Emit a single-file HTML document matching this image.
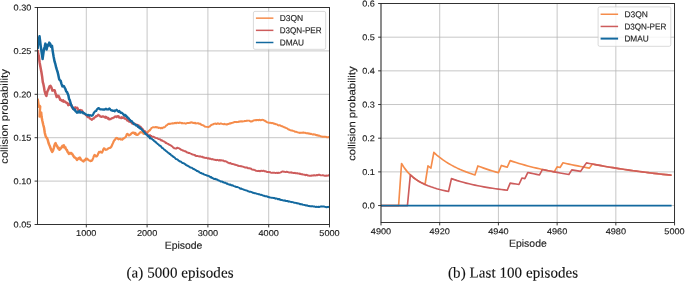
<!DOCTYPE html>
<html><head><meta charset="utf-8"><title>collision probability</title>
<style>
html,body{margin:0;padding:0;background:#ffffff;}
body{width:685px;height:282px;overflow:hidden;font-family:"Liberation Sans",sans-serif;}
svg{display:block;will-change:transform;opacity:0.999;}
</style></head><body>
<svg width="685" height="282" viewBox="0 0 685 282" font-family="'Liberation Sans', sans-serif" fill="#1c1c1c">
<rect x="0" y="0" width="685" height="282" fill="#ffffff"/>
<defs><clipPath id="cl"><rect x="37.50" y="7.50" width="292.00" height="217.00"/></clipPath>
<clipPath id="cr"><rect x="381.00" y="3.50" width="293.55" height="219.00"/></clipPath></defs>
<g stroke="#b4b4b4" stroke-width="0.75">
<line x1="86.30" y1="7.5" x2="86.30" y2="224.5"/>
<line x1="147.10" y1="7.5" x2="147.10" y2="224.5"/>
<line x1="207.90" y1="7.5" x2="207.90" y2="224.5"/>
<line x1="268.70" y1="7.5" x2="268.70" y2="224.5"/>
<line x1="329.50" y1="7.5" x2="329.50" y2="224.5"/>
<line x1="37.5" y1="224.50" x2="329.5" y2="224.50"/>
<line x1="37.5" y1="181.10" x2="329.5" y2="181.10"/>
<line x1="37.5" y1="137.70" x2="329.5" y2="137.70"/>
<line x1="37.5" y1="94.30" x2="329.5" y2="94.30"/>
<line x1="37.5" y1="50.90" x2="329.5" y2="50.90"/>
<line x1="37.5" y1="7.50" x2="329.5" y2="7.50"/>
</g>
<g clip-path="url(#cl)" fill="none" stroke-width="1.95" stroke-linejoin="round" stroke-linecap="butt">
<path d="M37.60,98.70 L38.20,102.50 L38.80,106.80 L39.60,105.80 L40.20,106.50 L39.80,111.50 L39.60,116.50 L40.40,113.50 L41.20,112.70 L41.60,117.00 L42.40,121.00 L43.30,125.00 L44.07,127.94 L44.83,133.03 L45.60,136.00 L46.30,137.53 L47.00,138.00 L47.80,140.11 L48.60,143.20 L49.23,144.79 L49.87,146.30 L50.50,148.00 L51.35,150.30 L52.20,152.00 L53.00,150.58 L53.80,148.00 L54.40,145.59 L55.00,143.86 L55.60,143.20 L56.23,145.14 L56.87,145.60 L57.50,147.00 L58.17,148.46 L58.83,147.87 L59.50,149.80 L60.23,148.76 L60.97,148.38 L61.70,147.00 L62.43,145.92 L63.17,146.82 L63.90,145.40 L64.60,147.57 L65.30,147.19 L66.00,149.50 L66.77,149.62 L67.53,151.72 L68.30,152.70 L68.92,153.83 L69.53,152.96 L70.15,152.88 L70.77,153.54 L71.38,153.01 L72.00,154.20 L72.62,154.47 L73.25,155.73 L73.88,156.67 L74.50,157.50 L75.12,157.59 L75.75,158.21 L76.38,158.81 L77.00,160.00 L77.77,159.19 L78.53,158.11 L79.30,157.80 L80.03,157.82 L80.77,159.77" stroke="#f58c4b" stroke-width="2.5"/>
<path d="M79.30,157.80 L80.03,157.82 L80.77,159.77 L81.50,160.00 L82.20,160.58 L82.90,161.21 L83.60,161.50 L84.33,160.06 L85.07,160.31 L85.80,158.60 L86.47,159.49 L87.15,158.73 L87.83,159.40 L88.50,160.00 L89.14,160.49 L89.78,160.64 L90.42,161.13 L91.06,160.52 L91.70,160.80 L92.42,159.82 L93.15,158.11 L93.88,156.08 L94.60,154.90 L95.33,155.53 L96.07,156.47 L96.80,156.40 L97.53,155.45 L98.27,153.47 L99.00,152.00 L99.72,152.31 L100.45,151.65 L101.18,152.14 L101.90,152.70 L102.53,151.71 L103.17,149.70 L103.80,148.40 L104.65,148.61 L105.50,149.80 L106.12,149.60 L106.75,149.55 L107.38,149.24 L108.00,148.70 L108.65,148.24 L109.30,148.06 L109.95,147.89 L110.60,147.60 L111.45,146.47 L112.30,144.50 L112.97,143.13 L113.63,141.54 L114.30,140.30 L115.03,139.73 L115.75,138.49 L116.47,137.97 L117.20,138.10 L117.82,138.66 L118.43,139.32 L119.05,138.99 L119.67,138.94 L120.28,138.86 L120.90,139.60 L121.60,139.24 L122.30,139.59 L123.00,138.50 L123.73,138.54 L124.47,137.83 L125.20,137.40 L125.93,136.74 L126.67,134.60 L127.40,133.80 L128.13,134.29 L128.87,135.41 L129.60,135.20 L130.33,134.65 L131.07,133.81 L131.80,133.20 L132.53,132.65 L133.27,132.87 L134.00,132.60 L134.72,133.86 L135.45,133.01 L136.18,134.75 L136.90,134.90 L137.52,134.90 L138.13,134.51 L138.75,133.81 L139.37,133.43 L139.98,132.51 L140.60,132.00 L141.32,132.39 L142.04,132.49 L142.76,132.23 L143.48,133.76 L144.20,133.50 L144.82,133.35 L145.43,132.55 L146.05,132.76 L146.67,132.48 L147.28,132.04 L147.90,132.00 L148.51,131.14 L149.13,130.80 L149.74,130.30 L150.36,129.57" stroke="#f58c4b" stroke-width="2.2"/>
<path d="M149.74,130.30 L150.36,129.57 L150.97,128.83 L151.59,127.87 L152.20,127.60 L152.82,127.28 L153.43,127.12 L154.05,127.31 L154.67,127.41 L155.28,127.24 L155.90,126.90 L156.54,127.31 L157.18,127.52 L157.81,127.28 L158.45,127.91 L159.09,127.97 L159.72,127.71 L160.36,127.85 L161.00,128.40 L161.62,127.83 L162.23,128.19 L162.85,127.61 L163.47,127.30 L164.08,127.49 L164.70,127.20 L165.30,126.55 L165.90,125.81 L166.50,125.34 L167.10,125.09 L167.70,124.28 L168.30,124.00 L168.97,123.76 L169.64,124.02 L170.31,123.75 L170.99,123.58 L171.66,123.62 L172.33,123.21 L173.00,123.50 L173.60,123.33 L174.20,123.26 L174.80,123.00 L175.40,122.85 L176.00,123.37 L176.60,122.98 L177.20,122.67 L177.80,122.80 L178.41,122.93 L179.02,123.14 L179.62,122.59 L180.23,122.63 L180.84,122.78 L181.45,123.27 L182.06,122.89 L182.67,123.36 L183.28,123.39 L183.88,123.33 L184.49,123.14 L185.10,123.40 L185.71,123.69 L186.32,123.48 L186.93,123.19 L187.53,122.89 L188.14,123.14 L188.75,122.87 L189.36,122.93 L189.97,122.66 L190.57,122.82 L191.18,122.31 L191.79,122.42 L192.40,122.50 L193.01,122.96 L193.62,122.99 L194.22,122.65 L194.83,123.17 L195.44,122.86 L196.05,123.43 L196.66,123.39 L197.27,123.24 L197.88,123.21 L198.48,123.13 L199.09,123.89 L199.70,123.70 L200.36,123.67 L201.02,124.58 L201.68,125.01 L202.34,125.03 L203.00,125.30 L203.62,125.38 L204.25,126.23 L204.88,126.64 L205.50,126.60 L206.10,126.88 L206.70,126.85 L207.30,126.87 L207.90,126.96 L208.50,127.20 L209.10,126.54 L209.70,126.45 L210.30,125.83 L210.90,125.21 L211.50,125.00 L212.20,124.37 L212.90,124.48 L213.60,123.87 L214.30,123.70 L214.91,123.70 L215.52,123.57 L216.12,123.98 L216.73,124.00 L217.34,123.33 L217.95,123.47 L218.56,123.57 L219.17,124.07 L219.78,123.91 L220.38,123.58 L220.99,123.48 L221.60,123.70 L222.24,123.90 L222.89,124.09 L223.53,124.23 L224.18,123.85 L224.82,124.32 L225.47,124.24 L226.11,124.15 L226.76,124.60 L227.40,124.30 L228.06,123.89 L228.72,124.05 L229.38,123.35 L230.04,123.28 L230.70,123.47 L231.36,122.89 L232.02,122.97 L232.68,122.67 L233.34,122.59 L234.00,122.20 L234.61,122.07 L235.22,122.00 L235.82,121.91 L236.43,122.17 L237.04,121.96 L237.65,122.10 L238.26,122.00 L238.87,121.54 L239.48,121.70 L240.08,121.40 L240.69,121.31 L241.30,121.50 L241.96,121.18 L242.62,121.52 L243.28,121.39 L243.94,121.32 L244.60,120.96 L245.26,121.02 L245.92,121.02 L246.58,120.71 L247.24,120.73 L247.90,120.60 L248.56,120.63 L249.22,120.73 L249.88,121.01 L250.54,121.53 L251.20,121.50 L251.84,121.27 L252.48,121.21 L253.12,120.70 L253.76,120.34 L254.40,120.20 L255.03,120.34 L255.66,120.35 L256.29,119.89 L256.91,120.23 L257.54,119.91 L258.17,119.91 L258.80,120.31 L259.43,119.84 L260.06,119.93 L260.69,120.32 L261.31,120.00 L261.94,119.82 L262.57,119.83 L263.20,120.00 L263.80,120.17 L264.40,120.75 L265.00,120.72 L265.60,121.47 L266.20,121.49 L266.80,122.12 L267.40,122.40 L268.00,122.38 L268.60,122.80 L269.28,122.73 L269.97,122.92 L270.65,122.78 L271.33,123.15 L272.02,122.88 L272.70,123.20 L273.33,123.14 L273.97,123.86 L274.60,123.69 L275.23,124.05 L275.87,124.17 L276.50,124.30 L277.13,124.36 L277.77,125.02 L278.40,125.25 L279.03,125.45 L279.67,125.19 L280.30,125.45 L280.93,125.86 L281.57,126.26 L282.20,126.20 L282.81,126.52 L283.42,126.90 L284.02,127.19 L284.63,127.27 L285.24,127.72 L285.85,127.90 L286.46,128.16 L287.07,128.37 L287.68,128.78 L288.28,129.46 L288.89,129.47 L289.50,129.80 L290.14,130.08 L290.77,130.28 L291.41,130.64 L292.05,130.54 L292.69,130.70 L293.32,130.91 L293.96,131.10 L294.60,131.59 L295.24,131.81 L295.88,131.69 L296.51,131.91 L297.15,132.22 L297.79,132.44 L298.43,132.65 L299.06,132.66 L299.70,133.00 L300.33,132.70 L300.96,132.78 L301.59,132.64 L302.21,132.86 L302.84,132.55 L303.47,132.51 L304.10,132.70 L304.74,132.89 L305.38,132.81 L306.01,133.20 L306.65,133.15 L307.29,133.46 L307.93,133.19 L308.56,133.49 L309.20,133.76 L309.84,133.48 L310.48,134.07 L311.11,133.76 L311.75,134.20 L312.39,134.42 L313.03,134.45 L313.66,134.29 L314.30,134.50 L314.91,134.45 L315.52,134.82 L316.12,135.20 L316.73,135.02 L317.34,135.50 L317.95,135.26 L318.56,135.83 L319.17,135.51 L319.78,135.83 L320.38,136.30 L320.99,136.41 L321.60,136.40 L322.23,136.70 L322.87,136.75 L323.50,136.78 L324.13,136.84 L324.77,136.64 L325.40,136.86 L326.03,136.80 L326.67,137.18 L327.30,137.24 L327.93,137.10 L328.57,137.08 L329.20,137.40" stroke="#f58c4b" stroke-width="1.95"/>
<path d="M37.60,50.00 L38.25,54.11 L38.90,56.40 L39.60,62.25 L40.30,66.30 L41.40,72.00 L42.10,76.40 L42.80,82.10 L43.40,84.18 L44.00,87.20 L44.60,91.00 L45.50,94.12 L46.40,95.90 L47.40,91.30 L48.13,90.11 L48.87,88.31 L49.60,86.30 L50.50,85.80 L51.40,87.40 L52.40,90.60 L53.13,90.08 L53.87,90.55 L54.60,90.20 L55.30,92.68 L56.00,94.90 L56.70,97.00 L57.60,95.77 L58.50,95.90 L59.40,97.76 L60.30,99.90 L61.00,99.76 L61.70,100.50 L62.40,101.11 L63.10,100.20 L63.83,101.67 L64.55,101.44 L65.28,101.81 L66.00,102.50 L66.77,102.94 L67.53,103.37 L68.30,105.20 L68.97,104.08 L69.65,104.78 L70.33,104.31 L71.00,104.50 L71.60,105.36 L72.20,107.48 L72.80,107.85 L73.40,108.90 L74.02,108.84 L74.64,108.01 L75.26,107.41 L75.88,107.83 L76.50,108.00 L77.20,107.85 L77.90,109.17 L78.60,110.72 L79.30,110.30 L79.97,110.70 L80.65,109.92" stroke="#cd5c5c" stroke-width="2.5"/>
<path d="M79.30,110.30 L79.97,110.70 L80.65,109.92 L81.33,111.04 L82.00,110.50 L82.62,111.65 L83.24,112.25 L83.86,113.21 L84.48,113.69 L85.10,114.00 L85.78,115.03 L86.46,114.98 L87.14,116.52 L87.82,117.09 L88.50,117.00 L89.14,117.05 L89.78,118.50 L90.42,119.00 L91.06,119.18 L91.70,119.80 L92.36,119.29 L93.02,118.67 L93.68,118.76 L94.34,117.56 L95.00,117.00 L95.64,117.04 L96.28,115.86 L96.92,116.19 L97.56,115.76 L98.20,114.70 L98.90,115.09 L99.60,115.70 L100.30,116.68 L101.00,116.50 L101.60,116.92 L102.20,116.64 L102.80,116.32 L103.40,116.56 L104.00,116.90 L104.60,117.32 L105.20,116.64 L105.80,117.87 L106.40,117.03 L107.00,117.50 L107.72,118.52 L108.45,118.01 L109.18,119.39 L109.90,119.10 L110.62,119.09 L111.34,118.47 L112.06,118.17 L112.78,118.05 L113.50,117.50 L114.12,117.42 L114.73,116.78 L115.35,116.41 L115.97,116.65 L116.58,117.07 L117.20,116.20 L117.90,116.71 L118.60,116.21 L119.30,117.66 L120.00,117.50 L120.60,117.86 L121.20,118.15 L121.80,117.10 L122.40,117.95 L123.00,117.60 L123.70,117.32 L124.40,118.59 L125.10,118.40 L125.80,118.71 L126.50,119.50 L127.15,120.48 L127.80,119.74 L128.45,120.78 L129.10,121.70 L129.75,121.20 L130.40,122.00 L131.12,121.97 L131.84,123.37 L132.56,123.08 L133.28,123.93 L134.00,124.00 L134.64,123.59 L135.29,124.37 L135.93,124.37 L136.58,125.41 L137.22,124.82 L137.87,126.42 L138.51,125.31 L139.16,126.66 L139.80,126.60 L140.43,126.53 L141.06,127.53 L141.69,129.02 L142.31,128.69 L142.94,129.38 L143.57,130.79 L144.20,130.98 L144.83,131.11 L145.46,133.19 L146.09,132.58 L146.71,133.05 L147.34,134.17 L147.97,135.22 L148.60,135.70 L149.24,136.20 L149.88,135.39 L150.51,135.99" stroke="#cd5c5c" stroke-width="2.2"/>
<path d="M149.24,136.20 L149.88,135.39 L150.51,135.99 L151.15,135.89 L151.79,136.35 L152.42,136.73 L153.06,136.84 L153.70,136.80 L154.31,137.38 L154.93,137.54 L155.54,137.89 L156.16,138.04 L156.77,138.14 L157.39,138.22 L158.00,138.70 L158.65,139.12 L159.30,139.16 L159.95,139.30 L160.60,139.86 L161.25,140.48 L161.90,140.22 L162.55,140.86 L163.20,141.10 L163.80,141.38 L164.40,141.84 L165.00,141.92 L165.60,142.90 L166.20,142.73 L166.80,143.36 L167.40,143.58 L168.00,144.00 L168.63,144.03 L169.25,144.84 L169.88,144.93 L170.51,145.26 L171.14,145.65 L171.76,146.14 L172.39,146.49 L173.02,147.30 L173.65,147.61 L174.27,148.37 L174.90,148.40 L175.62,148.58 L176.35,148.48 L177.08,147.75 L177.80,147.80 L178.50,148.12 L179.20,148.34 L179.90,148.97 L180.60,149.36 L181.30,149.86 L182.00,150.00 L182.66,150.47 L183.31,150.44 L183.97,150.88 L184.63,151.28 L185.29,151.20 L185.94,151.53 L186.60,152.20 L187.20,152.36 L187.80,152.37 L188.40,153.07 L189.00,152.94 L189.60,153.06 L190.20,153.36 L190.80,153.63 L191.40,153.85 L192.00,154.30 L192.62,154.51 L193.24,154.65 L193.86,154.73 L194.48,155.17 L195.10,155.03 L195.72,155.75 L196.34,155.98 L196.96,155.99 L197.58,155.96 L198.20,156.20 L198.83,156.34 L199.46,156.53 L200.09,156.27 L200.71,156.68 L201.34,156.90 L201.97,156.77 L202.60,156.84 L203.23,157.52 L203.86,157.32 L204.49,157.57 L205.11,158.01 L205.74,157.91 L206.37,157.80 L207.00,158.10 L207.63,158.61 L208.26,158.29 L208.89,158.16 L209.51,158.81 L210.14,158.51 L210.77,158.81 L211.40,159.36 L212.03,159.37 L212.66,159.02 L213.29,159.49 L213.91,159.60 L214.54,159.80 L215.17,159.74 L215.80,160.10 L216.45,160.20 L217.11,159.85 L217.76,160.05 L218.42,160.15 L219.07,160.61 L219.73,160.00 L220.38,160.55 L221.04,160.16 L221.69,160.48 L222.35,160.38 L223.00,160.50 L223.62,160.72 L224.25,161.19 L224.88,161.17 L225.50,161.21 L226.12,161.46 L226.75,161.68 L227.38,162.52 L228.00,162.50 L228.60,162.80 L229.20,163.23 L229.80,163.22 L230.40,163.00 L231.00,163.54 L231.60,163.79 L232.20,163.95 L232.80,164.02 L233.40,164.13 L234.00,164.40 L234.64,164.55 L235.27,164.91 L235.91,164.79 L236.55,165.11 L237.18,165.25 L237.82,165.68 L238.45,165.77 L239.09,166.02 L239.73,166.14 L240.36,166.02 L241.00,166.30 L241.63,166.31 L242.27,166.59 L242.90,166.62 L243.53,166.86 L244.17,167.15 L244.80,167.43 L245.43,167.40 L246.07,167.67 L246.70,167.43 L247.33,167.72 L247.97,168.22 L248.60,168.10 L249.23,168.12 L249.86,168.48 L250.49,168.51 L251.11,168.73 L251.74,169.38 L252.37,169.65 L253.00,169.68 L253.63,169.61 L254.26,169.92 L254.89,170.10 L255.51,170.55 L256.14,170.77 L256.77,170.85 L257.40,171.10 L258.04,171.08 L258.69,170.82 L259.33,171.02 L259.98,171.21 L260.62,171.07 L261.27,170.68 L261.91,170.88 L262.56,170.95 L263.20,170.80 L263.83,170.81 L264.46,171.30 L265.09,171.21 L265.71,171.48 L266.34,171.46 L266.97,171.92 L267.60,171.95 L268.23,171.98 L268.86,171.89 L269.49,172.20 L270.11,172.12 L270.74,172.57 L271.37,172.86 L272.00,172.80 L272.61,172.63 L273.22,172.81 L273.82,172.79 L274.43,172.75 L275.04,172.91 L275.65,173.04 L276.26,172.91 L276.87,172.79 L277.48,173.05 L278.08,172.71 L278.69,172.93 L279.30,172.80 L280.02,172.56 L280.75,172.29 L281.48,172.02 L282.20,171.50 L282.84,171.42 L283.49,171.70 L284.13,171.65 L284.78,171.86 L285.42,172.09 L286.07,171.97 L286.71,171.70 L287.36,172.01 L288.00,172.10 L288.63,172.29 L289.26,172.46 L289.89,172.42 L290.51,172.58 L291.14,172.23 L291.77,172.81 L292.40,172.77 L293.03,172.79 L293.66,173.03 L294.29,173.09 L294.91,172.75 L295.54,173.21 L296.17,173.27 L296.80,173.20 L297.42,173.17 L298.04,173.59 L298.66,173.64 L299.28,173.55 L299.90,174.01 L300.52,173.78 L301.14,174.17 L301.76,174.20 L302.38,174.24 L303.00,174.50 L303.63,174.64 L304.25,174.70 L304.88,174.67 L305.51,175.19 L306.14,174.81 L306.76,174.89 L307.39,175.26 L308.02,175.55 L308.65,175.57 L309.27,175.73 L309.90,175.70 L310.56,175.66 L311.21,175.73 L311.87,175.51 L312.52,175.44 L313.18,175.53 L313.83,175.24 L314.49,175.24 L315.14,175.57 L315.80,175.40 L316.52,175.05 L317.25,175.19 L317.98,175.03 L318.70,174.70 L319.36,174.77 L320.02,175.03 L320.68,175.22 L321.34,175.38 L322.00,175.30 L322.67,175.20 L323.33,175.32 L324.00,175.54 L324.67,175.68 L325.33,175.69 L326.00,175.90 L326.64,175.48 L327.28,175.61 L327.92,175.67 L328.56,175.19 L329.20,175.10" stroke="#cd5c5c" stroke-width="1.95"/>
<path d="M37.60,49.00 L38.20,43.00 L38.70,40.50 L39.50,36.20 L40.10,41.00 L40.80,46.80 L41.30,50.00 L42.00,55.00 L42.60,59.00 L43.20,54.50 L44.00,49.00 L44.60,47.00 L45.40,43.60 L46.00,46.50 L46.60,49.50 L47.30,46.50 L48.00,44.50 L48.60,45.50 L49.30,42.60 L50.40,44.20 L50.90,46.80 L52.00,45.80 L52.70,51.10 L53.60,56.50 L54.60,61.70 L55.40,64.18 L56.20,67.70 L56.90,69.94 L57.60,72.00 L58.40,75.39 L59.20,79.30 L59.90,80.21 L60.60,80.70 L61.50,83.80 L62.40,86.40 L63.13,85.90 L63.87,86.16 L64.60,87.50 L65.40,89.00 L66.20,91.37 L67.00,91.92 L67.80,94.10 L68.42,95.54 L69.05,99.04 L69.67,99.97 L70.30,102.00 L71.15,105.02 L72.00,106.70 L72.67,107.59 L73.33,108.84 L74.00,109.50 L74.77,109.57 L75.53,111.30 L76.30,111.80 L76.92,112.57 L77.53,111.91 L78.15,112.38 L78.77,112.28 L79.38,111.09 L80.00,112.00 L80.63,112.56" stroke="#13699f" stroke-width="2.5"/>
<path d="M79.38,111.09 L80.00,112.00 L80.63,112.56 L81.26,112.48 L81.89,112.22 L82.51,111.98 L83.14,113.41 L83.77,112.99 L84.40,113.20 L85.12,113.89 L85.84,114.49 L86.56,114.60 L87.28,115.27 L88.00,115.00 L88.72,114.94 L89.45,115.65 L90.18,115.22 L90.90,115.40 L91.63,115.82 L92.37,115.50 L93.10,114.70 L93.70,113.17 L94.30,112.30 L94.90,111.50 L95.50,111.00 L96.17,110.97 L96.85,109.45 L97.53,109.01 L98.20,108.10 L99.10,108.40 L100.00,109.30 L100.65,109.39 L101.30,109.28 L101.95,109.30 L102.60,109.60 L103.28,109.55 L103.96,109.37 L104.64,109.67 L105.32,109.15 L106.00,108.70 L106.65,109.38 L107.30,109.30 L107.95,109.54 L108.60,109.09 L109.25,108.36 L109.90,108.90 L110.52,109.79 L111.13,110.30 L111.75,110.56 L112.37,110.40 L112.98,110.97 L113.60,111.00 L114.20,110.45 L114.80,111.26 L115.40,110.76 L116.00,110.21 L116.60,109.76 L117.20,110.30 L117.90,111.26 L118.60,111.88 L119.30,110.96 L120.00,112.00 L120.60,112.85 L121.20,112.67 L121.80,112.68 L122.40,113.29 L123.00,114.00 L123.66,114.89 L124.31,115.54 L124.97,114.78 L125.62,116.13 L126.28,115.76 L126.93,117.26 L127.59,117.17 L128.24,118.48 L128.90,118.40 L129.54,119.85 L130.18,119.86 L130.81,121.32 L131.45,121.01 L132.09,121.39 L132.72,122.90 L133.36,122.77 L134.00,124.20 L134.64,124.11 L135.29,124.80 L135.93,125.47 L136.58,125.15 L137.22,125.35 L137.87,126.95 L138.51,126.49 L139.16,127.82 L139.80,127.50 L140.44,128.76 L141.08,128.65 L141.73,129.44 L142.37,130.20 L143.01,131.05 L143.65,131.64 L144.29,132.26 L144.93,133.01 L145.57,134.16 L146.22,134.18 L146.86,134.73 L147.50,135.50 L148.10,136.32 L148.70,136.08 L149.30,136.66 L149.90,138.16 L150.50,137.94" stroke="#13699f" stroke-width="2.2"/>
<path d="M149.30,136.66 L149.90,138.16 L150.50,137.94 L151.10,138.45 L151.70,138.53 L152.30,139.32 L152.90,139.93 L153.50,139.99 L154.10,140.93 L154.70,141.43 L155.30,141.48 L155.90,142.30 L156.54,142.95 L157.18,143.37 L157.81,144.09 L158.45,144.39 L159.09,145.21 L159.72,145.78 L160.36,145.79 L161.00,146.37 L161.64,147.38 L162.28,148.15 L162.91,148.16 L163.55,148.87 L164.19,149.52 L164.82,149.86 L165.46,150.45 L166.10,151.10 L166.70,151.43 L167.30,151.94 L167.90,152.58 L168.50,152.83 L169.10,153.36 L169.70,154.13 L170.30,154.03 L170.90,154.92 L171.50,155.51 L172.10,155.66 L172.70,156.07 L173.30,156.98 L173.90,157.02 L174.50,157.45 L175.10,158.11 L175.70,158.78 L176.30,159.10 L176.92,159.16 L177.53,159.69 L178.15,160.06 L178.76,160.81 L179.38,160.87 L179.99,161.55 L180.61,161.39 L181.23,161.88 L181.84,162.48 L182.46,163.02 L183.07,163.06 L183.69,163.25 L184.31,163.53 L184.92,164.21 L185.54,164.31 L186.15,165.14 L186.77,165.53 L187.38,165.40 L188.00,166.00 L188.64,166.18 L189.28,166.92 L189.91,167.14 L190.55,167.61 L191.19,167.60 L191.82,167.78 L192.46,168.25 L193.10,168.97 L193.74,168.92 L194.38,169.32 L195.01,169.72 L195.65,170.06 L196.29,170.40 L196.92,171.13 L197.56,170.89 L198.20,171.50 L198.83,171.42 L199.46,172.42 L200.09,172.67 L200.71,173.04 L201.34,172.91 L201.97,173.60 L202.60,173.87 L203.23,173.63 L203.86,174.32 L204.49,174.68 L205.11,174.85 L205.74,175.03 L206.37,175.15 L207.00,175.60 L207.62,175.74 L208.24,175.91 L208.86,176.04 L209.48,176.70 L210.10,176.72 L210.71,177.38 L211.33,177.05 L211.95,177.96 L212.57,178.06 L213.19,178.49 L213.81,178.73 L214.43,178.99 L215.05,179.00 L215.67,178.83 L216.29,179.64 L216.90,179.46 L217.52,179.82 L218.14,180.35 L218.76,180.50 L219.38,180.68 L220.00,181.00 L220.61,181.56 L221.22,181.53 L221.83,181.54 L222.43,181.70 L223.04,182.38 L223.65,182.31 L224.26,182.77 L224.87,182.66 L225.48,182.77 L226.09,183.24 L226.70,183.68 L227.30,183.41 L227.91,184.10 L228.52,184.42 L229.13,184.56 L229.74,184.79 L230.35,184.50 L230.96,185.06 L231.57,185.41 L232.17,185.19 L232.78,185.53 L233.39,185.75 L234.00,186.10 L234.61,186.34 L235.22,186.50 L235.82,186.75 L236.43,187.13 L237.04,186.94 L237.65,187.18 L238.26,187.44 L238.87,187.66 L239.47,187.85 L240.08,188.56 L240.69,188.72 L241.30,188.53 L241.91,188.97 L242.52,189.09 L243.12,189.31 L243.73,189.55 L244.34,189.93 L244.95,190.12 L245.56,190.22 L246.17,190.35 L246.78,190.65 L247.38,190.76 L247.99,191.21 L248.60,191.40 L249.21,191.69 L249.81,191.67 L250.42,191.68 L251.02,191.91 L251.63,192.18 L252.24,192.47 L252.84,192.74 L253.45,192.69 L254.05,193.09 L254.66,193.16 L255.27,193.23 L255.87,193.37 L256.48,193.60 L257.08,193.89 L257.69,193.90 L258.30,194.22 L258.90,194.26 L259.51,194.32 L260.12,194.64 L260.72,194.90 L261.33,194.73 L261.93,195.09 L262.54,195.26 L263.15,195.68 L263.75,195.88 L264.36,195.74 L264.96,196.20 L265.57,196.31 L266.18,196.19 L266.78,196.47 L267.39,196.46 L267.99,197.00 L268.60,197.00 L269.22,197.22 L269.84,197.48 L270.45,197.57 L271.07,197.64 L271.69,197.81 L272.31,197.85 L272.93,197.74 L273.55,198.14 L274.16,197.96 L274.78,198.17 L275.40,198.65 L276.02,198.39 L276.64,198.55 L277.25,198.69 L277.87,199.25 L278.49,199.01 L279.11,199.06 L279.73,199.64 L280.35,199.39 L280.96,199.91 L281.58,199.96 L282.20,200.00 L282.81,200.31 L283.42,200.51 L284.02,200.44 L284.63,200.69 L285.24,200.42 L285.85,200.94 L286.46,200.94 L287.07,201.18 L287.68,200.99 L288.28,201.47 L288.89,201.70 L289.50,201.36 L290.11,201.64 L290.72,201.90 L291.32,202.18 L291.93,201.99 L292.54,202.09 L293.15,202.26 L293.76,202.60 L294.37,202.80 L294.98,202.74 L295.58,202.86 L296.19,203.01 L296.80,203.20 L297.42,203.26 L298.05,203.44 L298.67,203.40 L299.30,203.77 L299.92,204.17 L300.54,204.01 L301.17,204.33 L301.79,204.16 L302.41,204.59 L303.04,204.77 L303.66,204.87 L304.29,204.92 L304.91,205.05 L305.53,205.28 L306.16,205.56 L306.78,205.30 L307.40,205.41 L308.03,205.91 L308.65,206.14 L309.28,206.07 L309.90,206.20 L310.51,206.23 L311.12,206.43 L311.72,206.21 L312.33,206.31 L312.94,206.33 L313.55,206.60 L314.16,206.51 L314.77,206.52 L315.38,206.83 L315.98,207.03 L316.59,206.73 L317.20,206.90 L317.84,206.97 L318.49,206.76 L319.13,206.96 L319.78,206.77 L320.42,206.55 L321.07,206.48 L321.71,206.33 L322.36,206.53 L323.00,206.50 L323.62,206.55 L324.23,206.56 L324.85,206.77 L325.47,206.87 L326.08,207.23 L326.70,207.20 L327.32,206.91 L327.95,207.27 L328.57,206.89 L329.20,206.80" stroke="#13699f" stroke-width="1.95"/>
</g>
<g stroke="#222222" stroke-width="0.9" fill="none">
<rect x="37.5" y="7.5" width="292.00" height="217.00"/>
<line x1="86.30" y1="224.5" x2="86.30" y2="227.4"/>
<line x1="147.10" y1="224.5" x2="147.10" y2="227.4"/>
<line x1="207.90" y1="224.5" x2="207.90" y2="227.4"/>
<line x1="268.70" y1="224.5" x2="268.70" y2="227.4"/>
<line x1="329.50" y1="224.5" x2="329.50" y2="227.4"/>
<line x1="34.6" y1="224.50" x2="37.5" y2="224.50"/>
<line x1="34.6" y1="181.10" x2="37.5" y2="181.10"/>
<line x1="34.6" y1="137.70" x2="37.5" y2="137.70"/>
<line x1="34.6" y1="94.30" x2="37.5" y2="94.30"/>
<line x1="34.6" y1="50.90" x2="37.5" y2="50.90"/>
<line x1="34.6" y1="7.50" x2="37.5" y2="7.50"/>
</g>
<text transform="rotate(0.03 76.12 236.05)" x="76.12" y="236.05" font-size="8.5" text-anchor="start" stroke="#1c1c1c" stroke-width="0.14" textLength="20.36" lengthAdjust="spacingAndGlyphs">1000</text>
<text transform="rotate(0.03 136.92 236.05)" x="136.92" y="236.05" font-size="8.5" text-anchor="start" stroke="#1c1c1c" stroke-width="0.14" textLength="20.36" lengthAdjust="spacingAndGlyphs">2000</text>
<text transform="rotate(0.03 197.72 236.05)" x="197.72" y="236.05" font-size="8.5" text-anchor="start" stroke="#1c1c1c" stroke-width="0.14" textLength="20.36" lengthAdjust="spacingAndGlyphs">3000</text>
<text transform="rotate(0.03 258.52 236.05)" x="258.52" y="236.05" font-size="8.5" text-anchor="start" stroke="#1c1c1c" stroke-width="0.14" textLength="20.36" lengthAdjust="spacingAndGlyphs">4000</text>
<text transform="rotate(0.03 319.32 236.05)" x="319.32" y="236.05" font-size="8.5" text-anchor="start" stroke="#1c1c1c" stroke-width="0.14" textLength="20.36" lengthAdjust="spacingAndGlyphs">5000</text>
<text transform="rotate(0.03 13.59 227.60)" x="13.59" y="227.60" font-size="8.5" text-anchor="start" stroke="#1c1c1c" stroke-width="0.14" textLength="17.81" lengthAdjust="spacingAndGlyphs">0.05</text>
<text transform="rotate(0.03 13.59 184.20)" x="13.59" y="184.20" font-size="8.5" text-anchor="start" stroke="#1c1c1c" stroke-width="0.14" textLength="17.81" lengthAdjust="spacingAndGlyphs">0.10</text>
<text transform="rotate(0.03 13.59 140.80)" x="13.59" y="140.80" font-size="8.5" text-anchor="start" stroke="#1c1c1c" stroke-width="0.14" textLength="17.81" lengthAdjust="spacingAndGlyphs">0.15</text>
<text transform="rotate(0.03 13.59 97.40)" x="13.59" y="97.40" font-size="8.5" text-anchor="start" stroke="#1c1c1c" stroke-width="0.14" textLength="17.81" lengthAdjust="spacingAndGlyphs">0.20</text>
<text transform="rotate(0.03 13.59 54.00)" x="13.59" y="54.00" font-size="8.5" text-anchor="start" stroke="#1c1c1c" stroke-width="0.14" textLength="17.81" lengthAdjust="spacingAndGlyphs">0.25</text>
<text transform="rotate(0.03 13.59 10.60)" x="13.59" y="10.60" font-size="8.5" text-anchor="start" stroke="#1c1c1c" stroke-width="0.14" textLength="17.81" lengthAdjust="spacingAndGlyphs">0.30</text>
<text transform="rotate(0.03 164.70 248.80)" x="164.70" y="248.80" font-size="10.17" text-anchor="start" stroke="#1c1c1c" stroke-width="0.14" textLength="37.70" lengthAdjust="spacingAndGlyphs">Episode</text>
<g transform="translate(7.85,163.65) rotate(-90)">
<text transform="rotate(0.03 0.00 0.00)" x="0.00" y="0.00" font-size="10.17" text-anchor="start" stroke="#1c1c1c" stroke-width="0.14" textLength="39.39" lengthAdjust="spacingAndGlyphs">collision</text>
<text transform="rotate(0.03 42.48 0.00)" x="42.48" y="0.00" font-size="10.17" text-anchor="start" stroke="#1c1c1c" stroke-width="0.14" textLength="52.02" lengthAdjust="spacingAndGlyphs">probability</text>
</g>
<rect x="253.4" y="11.4" width="72.3" height="37.9" rx="1.6" fill="#ffffff" fill-opacity="0.8" stroke="#cccccc" stroke-width="0.75"/>
<line x1="255.90" y1="18.15" x2="273.40" y2="18.15" stroke="#f58c4b" stroke-width="1.5"/>
<text transform="rotate(0.03 279.70 21.10)" x="279.70" y="21.10" font-size="8.5" text-anchor="start" stroke="#1c1c1c" stroke-width="0.14" textLength="23.53" lengthAdjust="spacingAndGlyphs">D3QN</text>
<line x1="255.90" y1="30.35" x2="273.40" y2="30.35" stroke="#cd5c5c" stroke-width="1.5"/>
<text transform="rotate(0.03 279.70 33.30)" x="279.70" y="33.30" font-size="8.5" text-anchor="start" stroke="#1c1c1c" stroke-width="0.14" textLength="41.86" lengthAdjust="spacingAndGlyphs">D3QN-PER</text>
<line x1="255.90" y1="42.50" x2="273.40" y2="42.50" stroke="#13699f" stroke-width="1.5"/>
<text transform="rotate(0.03 279.70 45.45)" x="279.70" y="45.45" font-size="8.5" text-anchor="start" stroke="#1c1c1c" stroke-width="0.14" textLength="24.39" lengthAdjust="spacingAndGlyphs">DMAU</text>
<g stroke="#b4b4b4" stroke-width="0.75">
<line x1="381.00" y1="3.5" x2="381.00" y2="222.5"/>
<line x1="439.71" y1="3.5" x2="439.71" y2="222.5"/>
<line x1="498.42" y1="3.5" x2="498.42" y2="222.5"/>
<line x1="557.13" y1="3.5" x2="557.13" y2="222.5"/>
<line x1="615.84" y1="3.5" x2="615.84" y2="222.5"/>
<line x1="674.55" y1="3.5" x2="674.55" y2="222.5"/>
<line x1="381.0" y1="205.55" x2="674.55" y2="205.55"/>
<line x1="381.0" y1="171.88" x2="674.55" y2="171.88"/>
<line x1="381.0" y1="138.20" x2="674.55" y2="138.20"/>
<line x1="381.0" y1="104.53" x2="674.55" y2="104.53"/>
<line x1="381.0" y1="70.85" x2="674.55" y2="70.85"/>
<line x1="381.0" y1="37.18" x2="674.55" y2="37.18"/>
<line x1="381.0" y1="3.50" x2="674.55" y2="3.50"/>
</g>
<g clip-path="url(#cr)" fill="none" stroke-width="1.65" stroke-linejoin="round" stroke-linecap="butt">
<path d="M381.00,205.55 L383.94,205.55 L386.87,205.55 L389.81,205.55 L392.74,205.55 L395.68,205.55 L398.61,205.55 L401.55,163.46 L404.48,168.13 L407.42,171.88 L410.36,174.94 L413.29,177.49 L416.23,179.65 L419.16,181.50 L422.10,183.10 L425.03,184.50 L427.97,165.93 L430.90,168.13 L433.84,152.38 L436.77,155.04 L439.71,157.44 L442.65,159.63 L445.58,161.63 L448.52,163.46 L451.45,165.14 L454.39,166.69 L457.32,168.13 L460.26,169.47 L463.19,170.71 L466.13,171.88 L469.06,172.96 L472.00,173.98 L474.94,174.94 L477.87,165.93 L480.81,167.06 L483.74,168.13 L486.68,169.14 L489.61,170.10 L492.55,171.01 L495.48,171.88 L498.42,172.70 L501.36,165.46 L504.29,166.39 L507.23,167.28 L510.16,160.65 L513.10,161.63 L516.03,162.56 L518.97,163.46 L521.90,164.32 L524.84,165.14 L527.77,165.93 L530.71,166.69 L533.65,167.43 L536.58,168.13 L539.52,168.81 L542.45,169.47 L545.39,170.10 L548.32,170.71 L551.26,171.30 L554.19,171.88 L557.13,166.91 L560.07,167.53 L563.00,162.79 L565.94,163.46 L568.87,164.10 L571.81,164.73 L574.74,165.34 L577.68,165.93 L580.61,166.51 L583.55,167.06 L586.48,167.61 L589.42,168.13 L592.36,164.03 L595.29,164.59 L598.23,165.14 L601.16,165.67 L604.10,166.19 L607.03,166.69 L609.97,167.19 L612.90,167.67 L615.84,168.13 L618.78,168.59 L621.71,169.03 L624.65,169.47 L627.58,169.89 L630.52,170.31 L633.45,170.71 L636.39,171.11 L639.32,171.50 L642.26,171.88 L645.19,172.25 L648.13,172.61 L651.07,172.96 L654.00,173.31 L656.94,173.65 L659.87,173.98 L662.81,174.31 L665.74,174.62 L668.68,174.94 L671.61,175.24" stroke="#f58c4b"/>
<path d="M381.00,205.55 L383.94,205.55 L386.87,205.55 L389.81,205.55 L392.74,205.55 L395.68,205.55 L398.61,205.55 L401.55,205.55 L404.48,205.55 L407.42,205.55 L410.36,174.94 L413.29,177.49 L416.23,179.65 L419.16,181.50 L422.10,183.10 L425.03,184.50 L427.97,185.74 L430.90,186.84 L433.84,187.83 L436.77,188.71 L439.71,189.51 L442.65,190.24 L445.58,190.91 L448.52,191.52 L451.45,178.61 L454.39,179.65 L457.32,180.61 L460.26,181.50 L463.19,182.33 L466.13,183.10 L469.06,183.82 L472.00,184.50 L474.94,185.14 L477.87,185.74 L480.81,186.31 L483.74,186.84 L486.68,187.35 L489.61,187.83 L492.55,188.28 L495.48,188.71 L498.42,189.12 L501.36,189.51 L504.29,189.89 L507.23,190.24 L510.16,183.10 L513.10,183.59 L516.03,184.06 L518.97,184.50 L521.90,178.06 L524.84,178.61 L527.77,172.54 L530.71,173.17 L533.65,173.78 L536.58,174.37 L539.52,174.94 L542.45,169.47 L545.39,170.10 L548.32,170.71 L551.26,171.30 L554.19,171.88 L557.13,172.43 L560.07,172.96 L563.00,173.48 L565.94,173.98 L568.87,174.47 L571.81,169.83 L574.74,170.37 L577.68,170.88 L580.61,171.39 L583.55,167.06 L586.48,162.86 L589.42,163.46 L592.36,164.03 L595.29,164.59 L598.23,165.14 L601.16,165.67 L604.10,166.19 L607.03,166.69 L609.97,167.19 L612.90,167.67 L615.84,168.13 L618.78,168.59 L621.71,169.03 L624.65,169.47 L627.58,169.89 L630.52,170.31 L633.45,170.71 L636.39,171.11 L639.32,171.50 L642.26,171.88 L645.19,172.25 L648.13,172.61 L651.07,172.96 L654.00,173.31 L656.94,173.65 L659.87,173.98 L662.81,174.31 L665.74,174.62 L668.68,174.94 L671.61,175.24" stroke="#cd5c5c"/>
<path d="M381.00,205.55 L671.61,205.55" stroke="#13699f" stroke-width="1.8"/>
</g>
<g stroke="#222222" stroke-width="0.9" fill="none">
<rect x="381.0" y="3.5" width="293.55" height="219.00"/>
<line x1="381.00" y1="222.5" x2="381.00" y2="225.4"/>
<line x1="439.71" y1="222.5" x2="439.71" y2="225.4"/>
<line x1="498.42" y1="222.5" x2="498.42" y2="225.4"/>
<line x1="557.13" y1="222.5" x2="557.13" y2="225.4"/>
<line x1="615.84" y1="222.5" x2="615.84" y2="225.4"/>
<line x1="674.55" y1="222.5" x2="674.55" y2="225.4"/>
<line x1="378.1" y1="205.55" x2="381.0" y2="205.55"/>
<line x1="378.1" y1="171.88" x2="381.0" y2="171.88"/>
<line x1="378.1" y1="138.20" x2="381.0" y2="138.20"/>
<line x1="378.1" y1="104.53" x2="381.0" y2="104.53"/>
<line x1="378.1" y1="70.85" x2="381.0" y2="70.85"/>
<line x1="378.1" y1="37.18" x2="381.0" y2="37.18"/>
<line x1="378.1" y1="3.50" x2="381.0" y2="3.50"/>
</g>
<text transform="rotate(0.03 370.82 234.35)" x="370.82" y="234.35" font-size="8.5" text-anchor="start" stroke="#1c1c1c" stroke-width="0.14" textLength="20.36" lengthAdjust="spacingAndGlyphs">4900</text>
<text transform="rotate(0.03 429.53 234.35)" x="429.53" y="234.35" font-size="8.5" text-anchor="start" stroke="#1c1c1c" stroke-width="0.14" textLength="20.36" lengthAdjust="spacingAndGlyphs">4920</text>
<text transform="rotate(0.03 488.24 234.35)" x="488.24" y="234.35" font-size="8.5" text-anchor="start" stroke="#1c1c1c" stroke-width="0.14" textLength="20.36" lengthAdjust="spacingAndGlyphs">4940</text>
<text transform="rotate(0.03 546.95 234.35)" x="546.95" y="234.35" font-size="8.5" text-anchor="start" stroke="#1c1c1c" stroke-width="0.14" textLength="20.36" lengthAdjust="spacingAndGlyphs">4960</text>
<text transform="rotate(0.03 605.66 234.35)" x="605.66" y="234.35" font-size="8.5" text-anchor="start" stroke="#1c1c1c" stroke-width="0.14" textLength="20.36" lengthAdjust="spacingAndGlyphs">4980</text>
<text transform="rotate(0.03 664.37 234.35)" x="664.37" y="234.35" font-size="8.5" text-anchor="start" stroke="#1c1c1c" stroke-width="0.14" textLength="20.36" lengthAdjust="spacingAndGlyphs">5000</text>
<text transform="rotate(0.03 362.18 208.55)" x="362.18" y="208.55" font-size="8.5" text-anchor="start" stroke="#1c1c1c" stroke-width="0.14" textLength="12.72" lengthAdjust="spacingAndGlyphs">0.0</text>
<text transform="rotate(0.03 362.18 174.88)" x="362.18" y="174.88" font-size="8.5" text-anchor="start" stroke="#1c1c1c" stroke-width="0.14" textLength="12.72" lengthAdjust="spacingAndGlyphs">0.1</text>
<text transform="rotate(0.03 362.18 141.20)" x="362.18" y="141.20" font-size="8.5" text-anchor="start" stroke="#1c1c1c" stroke-width="0.14" textLength="12.72" lengthAdjust="spacingAndGlyphs">0.2</text>
<text transform="rotate(0.03 362.18 107.53)" x="362.18" y="107.53" font-size="8.5" text-anchor="start" stroke="#1c1c1c" stroke-width="0.14" textLength="12.72" lengthAdjust="spacingAndGlyphs">0.3</text>
<text transform="rotate(0.03 362.18 73.85)" x="362.18" y="73.85" font-size="8.5" text-anchor="start" stroke="#1c1c1c" stroke-width="0.14" textLength="12.72" lengthAdjust="spacingAndGlyphs">0.4</text>
<text transform="rotate(0.03 362.18 40.18)" x="362.18" y="40.18" font-size="8.5" text-anchor="start" stroke="#1c1c1c" stroke-width="0.14" textLength="12.72" lengthAdjust="spacingAndGlyphs">0.5</text>
<text transform="rotate(0.03 362.18 6.50)" x="362.18" y="6.50" font-size="8.5" text-anchor="start" stroke="#1c1c1c" stroke-width="0.14" textLength="12.72" lengthAdjust="spacingAndGlyphs">0.6</text>
<text transform="rotate(0.03 509.05 246.80)" x="509.05" y="246.80" font-size="10.17" text-anchor="start" stroke="#1c1c1c" stroke-width="0.14" textLength="37.70" lengthAdjust="spacingAndGlyphs">Episode</text>
<g transform="translate(355.15,160.8) rotate(-90)">
<text transform="rotate(0.03 0.00 0.00)" x="0.00" y="0.00" font-size="10.17" text-anchor="start" stroke="#1c1c1c" stroke-width="0.14" textLength="39.39" lengthAdjust="spacingAndGlyphs">collision</text>
<text transform="rotate(0.03 42.48 0.00)" x="42.48" y="0.00" font-size="10.17" text-anchor="start" stroke="#1c1c1c" stroke-width="0.14" textLength="52.02" lengthAdjust="spacingAndGlyphs">probability</text>
</g>
<rect x="598.1" y="6.9" width="72.7" height="39.4" rx="1.6" fill="#ffffff" fill-opacity="0.8" stroke="#cccccc" stroke-width="0.75"/>
<line x1="600.60" y1="14.25" x2="618.10" y2="14.25" stroke="#f58c4b" stroke-width="1.5"/>
<text transform="rotate(0.03 624.40 17.20)" x="624.40" y="17.20" font-size="8.5" text-anchor="start" stroke="#1c1c1c" stroke-width="0.14" textLength="23.53" lengthAdjust="spacingAndGlyphs">D3QN</text>
<line x1="600.60" y1="26.45" x2="618.10" y2="26.45" stroke="#cd5c5c" stroke-width="1.5"/>
<text transform="rotate(0.03 624.40 29.40)" x="624.40" y="29.40" font-size="8.5" text-anchor="start" stroke="#1c1c1c" stroke-width="0.14" textLength="41.86" lengthAdjust="spacingAndGlyphs">D3QN-PER</text>
<line x1="600.60" y1="38.60" x2="618.10" y2="38.60" stroke="#13699f" stroke-width="2.0"/>
<text transform="rotate(0.03 624.40 41.55)" x="624.40" y="41.55" font-size="8.5" text-anchor="start" stroke="#1c1c1c" stroke-width="0.14" textLength="24.39" lengthAdjust="spacingAndGlyphs">DMAU</text>
<text transform="rotate(0.03 126.8 277.5)" x="126.5" y="277.5" font-family="'Liberation Serif', serif" font-size="15" fill="#111111" stroke="#111111" stroke-width="0.12" textLength="107" lengthAdjust="spacing">(a) 5000 episodes</text>
<text transform="rotate(0.03 448 277.5)" x="448.0" y="277.5" font-family="'Liberation Serif', serif" font-size="15" fill="#111111" stroke="#111111" stroke-width="0.12" textLength="130.2" lengthAdjust="spacing">(b) Last 100 episodes</text>
</svg>
</body></html>
